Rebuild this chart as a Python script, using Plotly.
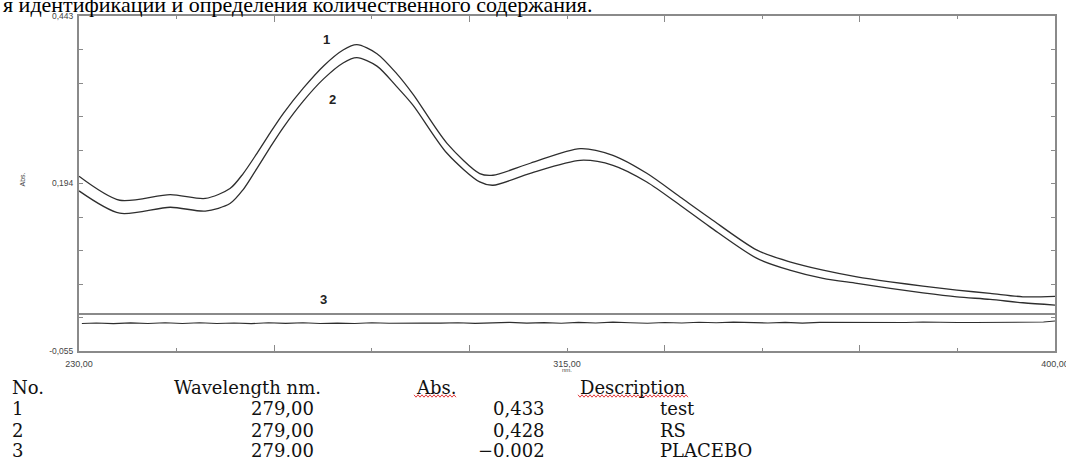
import plotly.graph_objects as go

# ---------------- data ----------------
wl = [230.0, 237.1, 245.9, 252.0, 256.3, 258.6, 261.0, 263.3, 265.6, 269.1, 272.6,
      276.0, 278.4, 281.9, 285.3, 288.2, 294.1, 299.8, 302.1, 308.6, 317.3, 323.0,
      328.9, 334.7, 339.9, 348.1, 353.8, 359.6, 365.5, 371.3, 377.0, 382.9, 388.7,
      394.4, 400.0]
abs_1 = [0.2048, 0.1691, 0.1776, 0.1718, 0.1865, 0.2088, 0.2389, 0.2693, 0.2983, 0.3361, 0.3688,
         0.3925, 0.4003, 0.3870, 0.3577, 0.3265, 0.2537, 0.2088, 0.2063, 0.2241, 0.2459, 0.2359,
         0.2092, 0.1740, 0.1424, 0.0949, 0.0776, 0.0652, 0.0553, 0.0479, 0.0415, 0.0355, 0.0307,
         0.0256, 0.0262]
abs_2 = [0.1830, 0.1498, 0.1587, 0.1530, 0.1642, 0.1850, 0.2166, 0.2478, 0.2775, 0.3168, 0.3495,
         0.3732, 0.3810, 0.3685, 0.3384, 0.3102, 0.2389, 0.1963, 0.1914, 0.2092, 0.2285, 0.2211,
         0.1963, 0.1617, 0.1295, 0.0826, 0.0652, 0.0529, 0.0455, 0.0381, 0.0315, 0.0256, 0.0217,
         0.0167, 0.0133]

wl_3 = [230.5, 233, 236, 239, 242, 245, 248, 251, 254, 257, 260, 263, 266, 269, 272,
        275, 278, 281, 284, 287, 290, 293, 296, 299, 302, 305, 308, 311, 314, 317,
        320, 323, 326, 329, 332, 335, 338, 341, 344, 347, 350, 353, 356, 359, 362,
        365, 368, 371, 374, 377, 380, 383, 386, 389, 392, 395, 398, 400]
abs_3 = [-0.0142, -0.0133, -0.0143, -0.0132, -0.0141, -0.0131, -0.0142, -0.0130, -0.0141, -0.0134,
         -0.0143, -0.0131, -0.0140, -0.0130, -0.0141, -0.0135, -0.0142, -0.0130, -0.0138, -0.0132,
         -0.0136, -0.0136, -0.0130, -0.0140, -0.0131, -0.0125, -0.0136, -0.0128, -0.0137, -0.0124,
         -0.0133, -0.0121, -0.0131, -0.0137, -0.0126, -0.0133, -0.0123, -0.0131, -0.0121, -0.0129,
         -0.0134, -0.0124, -0.0136, -0.0125, -0.0127, -0.0127, -0.0127, -0.0127, -0.0126, -0.0119,
         -0.0128, -0.0126, -0.0126, -0.0126, -0.0126, -0.0126, -0.0119, -0.0105]

x_tickvals = [230, 247, 264, 281, 298, 315, 332, 349, 366, 383, 400]
x_ticktext = ["230,00", "", "", "", "", "315,00", "", "", "", "", "400,00"]
x_long_ticks = [264, 298, 332, 366]
y_tickvals = [0.443, 0.3932, 0.3434, 0.2936, 0.2438, 0.194, 0.1442, 0.0944, 0.0446, -0.0052, -0.055]
y_ticktext = ["0,443", "", "", "", "", "0,194", "", "", "", "", "-0,055"]

curve_labels = ["1", "2", "3"]
curve_label_x = [273.1, 274.1, 272.6]
curve_label_y = [0.4077, 0.3186, 0.0222]

table_header = ["No.", "Wavelength nm.", "Abs.", "Description"]
table_no = ["1", "2", "3"]
table_wl = ["279,00", "279,00", "279,00"]
table_abs = ["0,433", "0,428", "\u22120,002"]
table_desc = ["test", "RS", "PLACEBO"]

heading = "я идентификации и определения количественного содержания."

# ---------------- layout helpers ----------------
FIG_W, FIG_H = 1066, 457
L, R, T, B = 79, 11, 16, 106
PW = FIG_W - L - R
PH = FIG_H - T - B


def px(xp):
    return (xp - L) / PW


def py(yp):
    return 1 - (yp - T) / PH


line_col = "#2e2e2e"
axis_col = "#8a8a8a"

fig = go.Figure()
for ys in [abs_1, abs_2]:
    fig.add_trace(go.Scatter(x=wl, y=ys, mode="lines",
                             line=dict(color=line_col, width=1.3, shape="spline", smoothing=0.8),
                             hoverinfo="skip", showlegend=False))
fig.add_trace(go.Scatter(x=wl_3, y=abs_3, mode="lines",
                         line=dict(color=line_col, width=1.1),
                         hoverinfo="skip", showlegend=False))

annotations = []
for t, xv, yv in zip(curve_labels, curve_label_x, curve_label_y):
    annotations.append(dict(x=xv, y=yv, xref="x", yref="y", text="<b>" + t + "</b>", showarrow=False,
                            font=dict(family="Liberation Sans", size=13, color="#222"),
                            xanchor="center", yanchor="middle"))

# axis titles
annotations.append(dict(x=px(17), y=py(180), xref="paper", yref="paper", text="Abs.",
                        showarrow=False, textangle=-90,
                        font=dict(family="Liberation Sans", size=7, color="#444")))
annotations.append(dict(x=px(567), y=py(375), xref="paper", yref="paper", text="nm.",
                        showarrow=False,
                        font=dict(family="Liberation Sans", size=6, color="#444")))

# heading cut at top
annotations.append(dict(x=px(1), y=py(19), xref="paper", yref="paper", text=heading,
                        showarrow=False, xanchor="left", yanchor="bottom",
                        font=dict(family="Liberation Serif", size=22, color="#000")))

# table
tfont = dict(family="DejaVu Serif", size=18, color="#111")
row_y = [387, 408.5, 430, 450]
hdr_x = [(10, "left"), (172, "left"), (414, "left"), (578, "left")]
for (xp, anc), txt in zip(hdr_x, table_header):
    annotations.append(dict(x=px(xp), y=py(row_y[0]), xref="paper", yref="paper", text=txt,
                            showarrow=False, xanchor=anc, yanchor="middle", font=tfont))
for i in range(3):
    yy = py(row_y[i + 1])
    annotations.append(dict(x=px(10), y=yy, xref="paper", yref="paper", text=table_no[i],
                            showarrow=False, xanchor="left", yanchor="middle", font=tfont))
    annotations.append(dict(x=px(316), y=yy, xref="paper", yref="paper", text=table_wl[i],
                            showarrow=False, xanchor="right", yanchor="middle", font=tfont))
    annotations.append(dict(x=px(547), y=yy, xref="paper", yref="paper", text=table_abs[i],
                            showarrow=False, xanchor="right", yanchor="middle", font=tfont))
    annotations.append(dict(x=px(658), y=yy, xref="paper", yref="paper", text=table_desc[i],
                            showarrow=False, xanchor="left", yanchor="middle", font=tfont))


def squiggle(x0, x1, yc, period=4.0, amp=1.2):
    pts = []
    xp = x0
    k = 0
    while xp <= x1:
        pts.append((px(xp), py(yc + (amp if k % 2 else -amp))))
        xp += period / 2
        k += 1
    d = "M " + " L ".join(f"{a:.5f},{b:.5f}" for a, b in pts)
    return dict(type="path", xref="paper", yref="paper", path=d,
                line=dict(color="#e23b3b", width=1))


shapes = [squiggle(414, 456, 396), squiggle(578, 688, 396)]

fig.update_layout(
    width=FIG_W, height=FIG_H, autosize=False,
    margin=dict(l=L, r=R, t=T, b=B, pad=0, autoexpand=False),
    paper_bgcolor="white", plot_bgcolor="white",
    showlegend=False,
    annotations=annotations,
    shapes=shapes,
    xaxis=dict(range=[230, 400], showgrid=False, zeroline=False, automargin=False,
               showline=True, linecolor=axis_col, linewidth=2, mirror="ticks",
               ticks="inside", ticklen=3, tickwidth=1, tickcolor=axis_col,
               tickvals=x_tickvals, ticktext=x_ticktext, ticklabelstandoff=3,
               ticklabeloverflow="allow",
               tickfont=dict(family="Liberation Sans", size=9, color="#444"),
               minor=dict(tickvals=x_long_ticks, ticks="inside", ticklen=6,
                          tickcolor=axis_col, tickwidth=1, showgrid=False)),
    yaxis=dict(range=[-0.055, 0.443], showgrid=False, automargin=False,
               zeroline=True, zerolinecolor=axis_col, zerolinewidth=2,
               showline=True, linecolor=axis_col, linewidth=2, mirror="ticks",
               ticks="inside", ticklen=4, tickwidth=1, tickcolor=axis_col,
               tickvals=y_tickvals, ticktext=y_ticktext, ticklabelstandoff=2,
               ticklabeloverflow="allow",
               tickfont=dict(family="Liberation Sans", size=8.5, color="#444")),
)

fig.write_html("out.html",
               config={"displayModeBar": False, "responsive": False},
               post_script="document.body.style.margin='0';document.body.style.overflow='hidden';")
